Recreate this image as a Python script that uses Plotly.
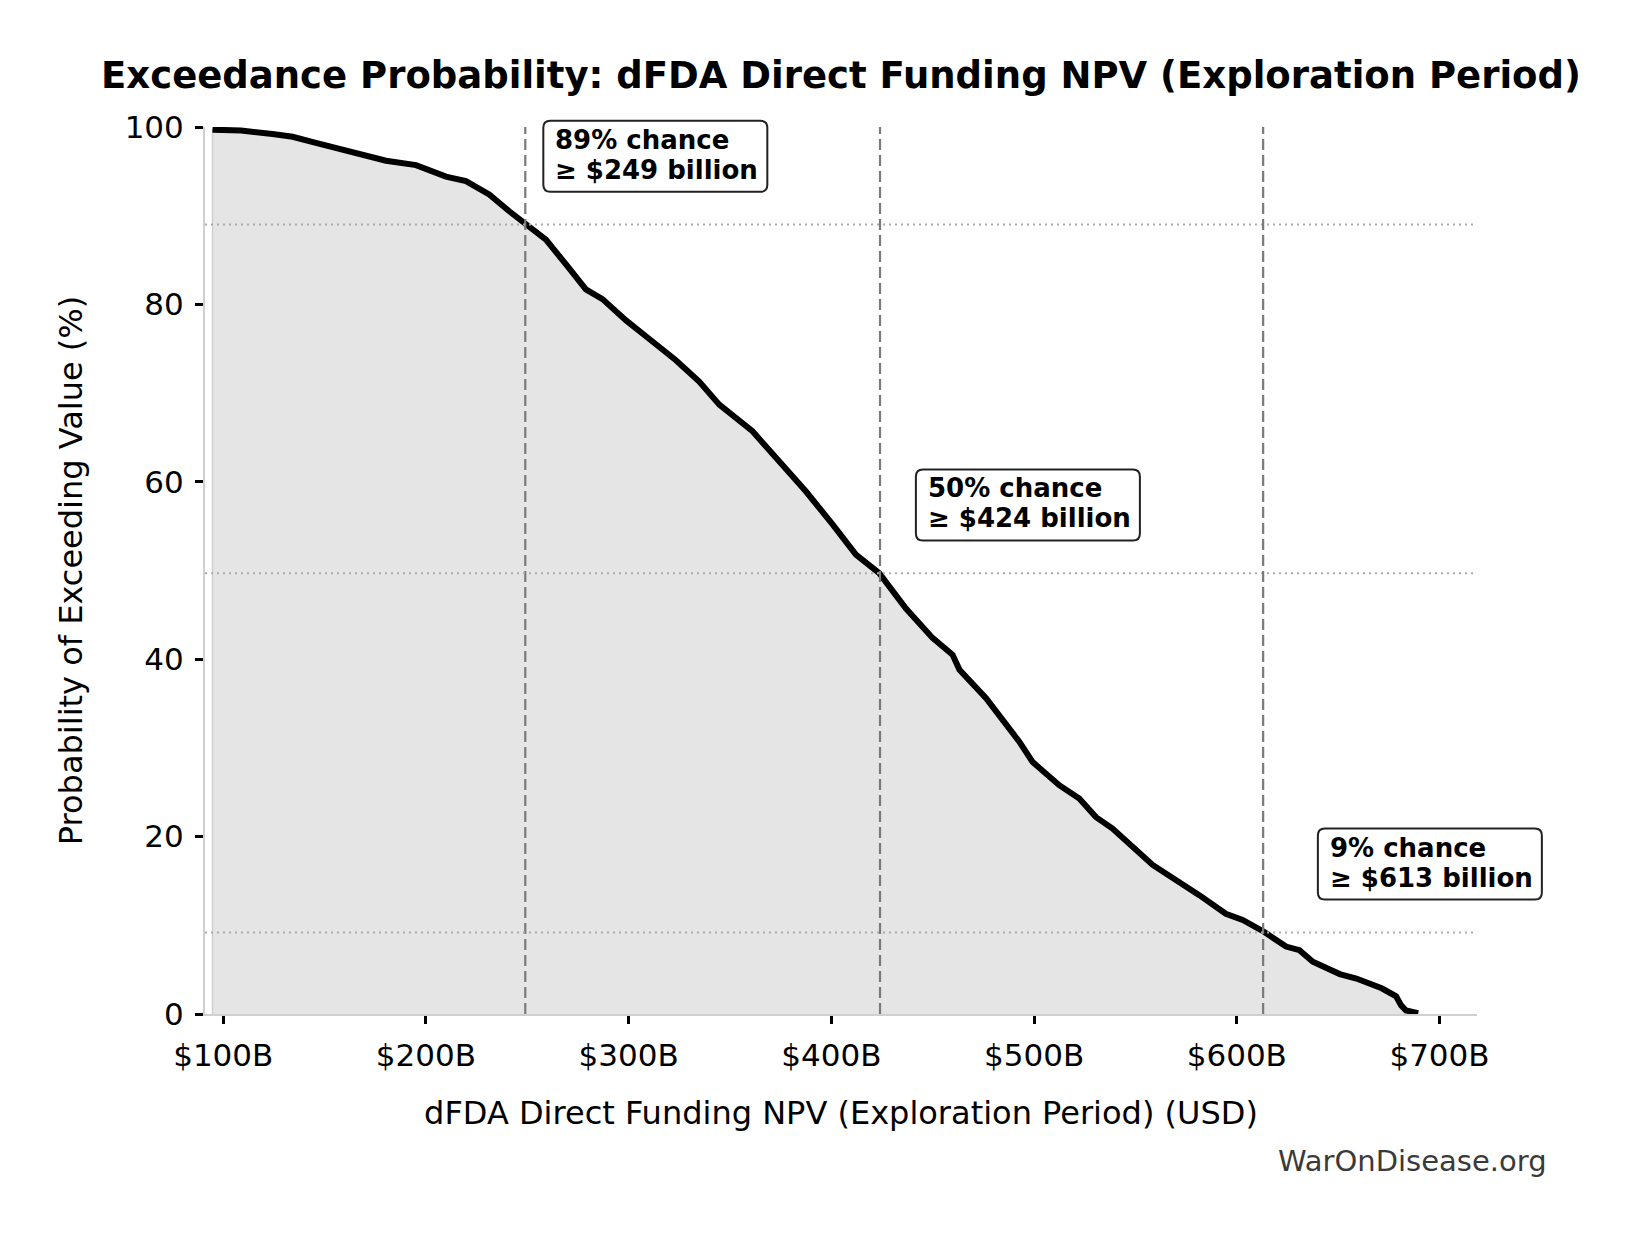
import plotly.graph_objects as go

# exceedance curve (value in $B, probability in %)
npv_billion = [
    94.7, 108.8, 124.3, 134.2, 145.7, 157.2, 168.7, 180.3, 195.1, 209.9,
    219.7, 231.2, 241.1, 249.3, 259.2, 269.1, 278.9, 287.1, 298.7, 310.2,
    323.3, 334.8, 344.7, 361.1, 374.3, 387.5, 400.6, 412.1, 423.6, 436.8,
    449.9, 459.8, 463.2, 476.3, 492.7, 499.3, 512.4, 522.3, 530.5, 538.7,
    558.5, 571.6, 581.5, 594.6, 602.9, 613.6, 624.3, 630.9, 637.5, 650.8,
    659.0, 671.5, 678.6, 681.0, 683.5, 689.5,
]
exceed_pct = [
    99.7, 99.6, 99.2, 98.9, 98.2, 97.5, 96.9, 96.2, 95.7, 94.4,
    93.9, 92.4, 90.5, 89.0, 87.3, 84.5, 81.7, 80.6, 78.2, 76.1,
    73.7, 71.3, 68.7, 65.7, 62.3, 58.9, 55.2, 51.8, 49.7, 45.7,
    42.4, 40.5, 38.8, 35.6, 30.7, 28.4, 25.8, 24.3, 22.2, 20.9,
    16.8, 14.9, 13.4, 11.3, 10.6, 9.25, 7.6, 7.2, 5.9, 4.5,
    4.0, 2.9, 2.0, 1.0, 0.4, 0.1,
]

# highlighted points
marker_values = [249, 424, 613]
marker_probs = [89.0, 49.7, 9.2]
marker_chance = ["89% chance", "50% chance", "9% chance"]
marker_amount = ["≥ $249 billion", "≥ $424 billion", "≥ $613 billion"]

x_ticks = [100, 200, 300, 400, 500, 600, 700]
x_tick_text = ["$100B", "$200B", "$300B", "$400B", "$500B", "$600B", "$700B"]

FONT = "DejaVu Sans"
X_RANGE = [91.0, 718.5]
Y_RANGE = [0, 100]

W, H = 1646, 1234
M_L, M_R, M_T, M_B = 197, 177, 119, 228


def to_paper_x(v):
    return (v - X_RANGE[0]) / (X_RANGE[1] - X_RANGE[0])


def to_paper_y(v):
    return (v - Y_RANGE[0]) / (Y_RANGE[1] - Y_RANGE[0])


def rounded_box(w, h, r):
    # path in pixels, anchored at top-left corner, y pointing up
    return (f"M {r},0 L {w - r},0 Q {w},0 {w},{-r} L {w},{-h + r} "
            f"Q {w},{-h} {w - r},{-h} L {r},{-h} Q 0,{-h} 0,{-h + r} "
            f"L 0,{-r} Q 0,0 {r},0 Z")


fig = go.Figure()

# shaded area under the curve
fig.add_trace(go.Scatter(
    x=[npv_billion[0]] + npv_billion + [npv_billion[-1]],
    y=[0] + exceed_pct + [0],
    fill="toself",
    fillcolor="#e5e5e5",
    line=dict(color="#d0d0d0", width=1.5),
    mode="lines",
    hoverinfo="skip",
    showlegend=False,
))

fig.add_trace(go.Scatter(
    x=npv_billion,
    y=exceed_pct,
    mode="lines",
    line=dict(color="black", width=6),
    showlegend=False,
))

# label boxes sit up and to the right of each marker
label_dx = [8.9, 17.7, 27.0]
label_dy = 11.7
box_w, box_h = 224, 71

for val, prob, l1, l2, dx in zip(marker_values, marker_probs, marker_chance, marker_amount, label_dx):
    fig.add_shape(type="line", xref="x", yref="paper", x0=val, x1=val, y0=0, y1=1,
                  line=dict(color="#7a7a7a", width=2.2, dash="11px,5px"), layer="above")
    fig.add_shape(type="line", xref="paper", yref="y", x0=0, x1=1, y0=prob, y1=prob,
                  line=dict(color="#ababab", width=2, dash="2px,4px"), layer="above")

    bx = to_paper_x(val + dx)
    by = to_paper_y(prob + label_dy)
    fig.add_shape(
        type="path", xref="paper", yref="paper",
        xsizemode="pixel", ysizemode="pixel", xanchor=bx, yanchor=by,
        path=rounded_box(box_w, box_h, 7),
        fillcolor="white", line=dict(color="#222222", width=2), layer="above",
    )
    for text, shift in [(l1, -19), (l2, -49)]:
        fig.add_annotation(
            x=bx, y=by, xref="paper", yref="paper",
            text=f"<b>{text}</b>", showarrow=False,
            xanchor="left", yanchor="middle", xshift=10, yshift=shift,
            font=dict(family=FONT, size=26, color="black"),
        )

plot_w = W - M_L - M_R
plot_h = H - M_T - M_B
fig.add_annotation(
    x=(1541 - M_L) / plot_w, y=-(1153 - (H - M_B)) / plot_h,
    xref="paper", yref="paper", text="WarOnDisease.org",
    showarrow=False, xanchor="right", yanchor="middle",
    font=dict(family=FONT, size=29, color="#3a3a3a"),
)

fig.update_layout(
    width=W,
    height=H,
    margin=dict(l=M_L, r=M_R, t=M_T, b=M_B),
    paper_bgcolor="white",
    plot_bgcolor="white",
    font=dict(family=FONT, size=31, color="black"),
    title=dict(
        text="<b>Exceedance Probability: dFDA Direct Funding NPV (Exploration Period)</b>",
        x=0.5, xref="paper", xanchor="center",
        y=1 - 67 / H, yanchor="middle",
        font=dict(family=FONT, size=37, color="black"),
    ),
    xaxis=dict(
        range=X_RANGE,
        tickvals=x_ticks,
        ticktext=x_tick_text,
        showgrid=False,
        zeroline=False,
        showline=True,
        linecolor="#d0d0d0",
        linewidth=2,
        ticks="outside",
        ticklen=8,
        tickwidth=2.5,
        tickcolor="black",
        tickfont=dict(size=31),
        ticklabelstandoff=5,
        title=dict(text="dFDA Direct Funding NPV (Exploration Period) (USD)",
                   font=dict(size=32), standoff=29),
    ),
    yaxis=dict(
        range=Y_RANGE,
        tickvals=[0, 20, 40, 60, 80, 100],
        showgrid=False,
        zeroline=False,
        showline=True,
        linecolor="#d0d0d0",
        linewidth=2,
        ticks="outside",
        ticklen=8,
        tickwidth=2.5,
        tickcolor="black",
        tickfont=dict(size=31),
        ticklabelstandoff=5,
        title=dict(text="Probability of Exceeding Value (%)", font=dict(size=32), standoff=32),
    ),
)

fig.write_html("out.html")
